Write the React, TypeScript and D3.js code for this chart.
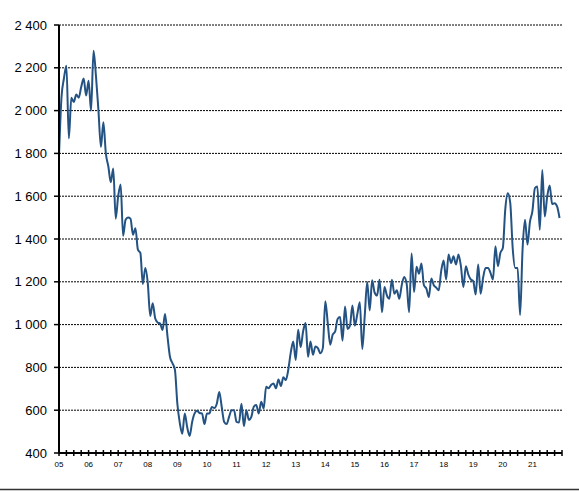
import React from "react";
import * as d3 from "d3";

// Monthly values, Jan 2005 .. Dec 2021
const values: number[] = [
  1790, 2060, 2150, 2210, 1870, 2060, 2040, 2075, 2060, 2110, 2150, 2070,
  2140, 2000, 2280, 2160, 2000, 1830, 1945, 1800, 1740, 1665, 1730, 1495,
  1600, 1655, 1415, 1490, 1500, 1495, 1420, 1450, 1350, 1335, 1190, 1265,
  1195, 1040, 1100, 1030, 1010, 1005, 975, 1050, 945, 850, 820, 790,
  630, 540, 490, 585, 520, 480, 545, 585, 597, 587, 585, 535,
  585, 585, 615, 610, 630, 685, 615, 545, 535, 570, 600, 600,
  545, 542, 630, 525, 600, 555, 569, 616, 624, 585, 640, 608,
  710, 702, 718, 725, 702, 744, 713, 754, 741, 790, 870, 921,
  835, 976, 895, 968, 1007, 850, 921, 859, 898, 890, 866, 890,
  1109, 1007, 906, 953, 968, 1026, 1035, 925, 1085, 980, 995, 1089,
  995, 1050, 1105, 886, 1042, 1199, 1066, 1207, 1150, 1136, 1210, 1058,
  1176, 1136, 1121, 1210, 1144, 1160, 1121, 1184, 1223, 1191, 1058, 1333,
  1152, 1270, 1238, 1285, 1184, 1168, 1129, 1215, 1184, 1173, 1160, 1250,
  1299, 1211, 1327, 1288, 1319, 1281, 1327, 1273, 1175, 1273, 1234, 1211,
  1203, 1141, 1281, 1144, 1219, 1265, 1265, 1242, 1211, 1366, 1273, 1335,
  1358, 1540, 1614, 1570, 1358, 1265, 1265, 1045, 1350, 1490, 1374, 1480,
  1530, 1637, 1645, 1443, 1722, 1505, 1598, 1650, 1563, 1567, 1552, 1498,
];

const startYear = 2005;
const endYear = 2022;
const yearLabels: string[] = ["05", "06", "07", "08", "09", "10", "11", "12", "13", "14", "15", "16", "17", "18", "19", "20", "21"];
const yTicks: number[] = [400, 600, 800, 1000, 1200, 1400, 1600, 1800, 2000, 2200, 2400];
const yTickLabels: string[] = ["400", "600", "800", "1 000", "1 200", "1 400", "1 600", "1 800", "2 000", "2 200", "2 400"];

const W = 579;
const H = 491;
const left = 59;
const right = 562;
const top = 25;
const bottom = 453;

export default function App() {
  const x = d3.scaleLinear().domain([startYear, endYear]).range([left, right]);
  const y = d3.scaleLinear().domain([400, 2400]).range([bottom, top]);

  const line = d3
    .line<number>()
    .x((_, i) => x(startYear + i / 12))
    .y((d) => y(d))
    .curve(d3.curveMonotoneX);

  const quarterTicks: number[] = d3.range(0, (endYear - startYear) * 4 + 1).map((q) => startYear + q / 4);

  return (
    <svg
      width={W}
      height={H}
      style={{ position: "absolute", left: 0, top: 0, background: "#fff" }}
      fontFamily="'Liberation Sans', Arial, sans-serif"
    >
      {/* gridlines */}
      {yTicks.slice(1).map((t) => (
        <line
          key={"g" + t}
          x1={left}
          x2={right}
          y1={y(t)}
          y2={y(t)}
          stroke="#000"
          strokeWidth={1}
          strokeDasharray="2 1"
        />
      ))}
      {/* y ticks and labels */}
      {yTicks.map((t, i) => (
        <g key={"y" + t}>
          <line x1={left - 5} x2={left} y1={y(t)} y2={y(t)} stroke="#000" strokeWidth={1.5} />
          <text x={47} y={y(t)} dy="0.35em" textAnchor="end" fontSize={13} fill="#000">
            {yTickLabels[i]}
          </text>
        </g>
      ))}
      {/* data line */}
      <path d={line(values) || ""} fill="none" stroke="#245383" strokeWidth={2} strokeLinejoin="round" />
      {/* axes */}
      <line x1={left} x2={left} y1={top} y2={bottom} stroke="#000" strokeWidth={2} />
      <line x1={left} x2={right} y1={bottom} y2={bottom} stroke="#000" strokeWidth={2} />
      {quarterTicks.map((q) => (
        <line key={"q" + q} x1={x(q)} x2={x(q)} y1={bottom - 3} y2={bottom + 3} stroke="#000" strokeWidth={1.5} />
      ))}
      {yearLabels.map((lab, i) => (
        <text
          key={"x" + lab}
          x={x(startYear + i)}
          y={464}
          dy="0.35em"
          textAnchor="middle"
          fontSize={8}
          fill="#000"
          fontFamily="'Liberation Sans Narrow', 'Liberation Sans', Arial, sans-serif"
        >
          {lab}
        </text>
      ))}
      {/* bottom rule */}
      <line x1={0} x2={W} y1={489.5} y2={489.5} stroke="#333" strokeWidth={1.5} />
    </svg>
  );
}
